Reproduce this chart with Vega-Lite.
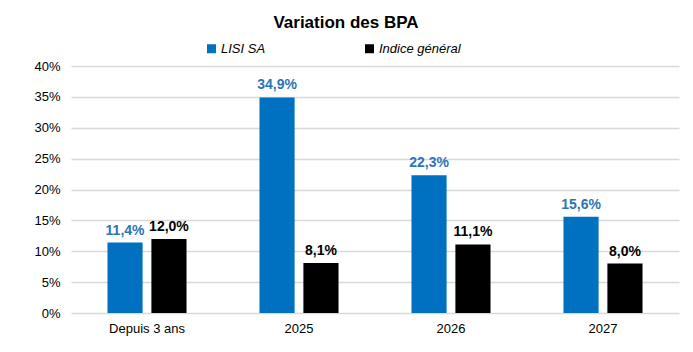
{
  "$schema": "https://vega.github.io/schema/vega-lite/v6.json",
  "width": 608,
  "height": 247,
  "autosize": {"type": "none"},
  "padding": {"left": 71, "top": 66, "right": 14, "bottom": 39},
  "background": "white",
  "title": {
    "text": "Variation des BPA",
    "font": "Liberation Sans",
    "fontSize": 17,
    "fontWeight": "bold",
    "color": "#000000",
    "anchor": "middle",
    "dx": -29,
    "offset": 10
  },
  "data": {
    "values": [
      {"periode": "Depuis 3 ans", "serie": "LISI SA", "valeur": 0.114},
      {"periode": "Depuis 3 ans", "serie": "Indice général", "valeur": 0.120},
      {"periode": "2025", "serie": "LISI SA", "valeur": 0.349},
      {"periode": "2025", "serie": "Indice général", "valeur": 0.081},
      {"periode": "2026", "serie": "LISI SA", "valeur": 0.223},
      {"periode": "2026", "serie": "Indice général", "valeur": 0.111},
      {"periode": "2027", "serie": "LISI SA", "valeur": 0.156},
      {"periode": "2027", "serie": "Indice général", "valeur": 0.080}
    ]
  },
  "encoding": {
    "x": {
      "field": "periode",
      "type": "nominal",
      "sort": ["Depuis 3 ans", "2025", "2026", "2027"],
      "scale": {"paddingInner": 0.48, "paddingOuter": 0.24},
      "axis": {
        "title": null,
        "labelAngle": 0,
        "domain": false,
        "ticks": false,
        "labelPadding": 9,
        "labelFont": "Liberation Sans",
        "labelFontSize": 13,
        "labelColor": "#000000"
      }
    },
    "xOffset": {
      "field": "serie",
      "type": "nominal",
      "sort": ["LISI SA", "Indice général"],
      "scale": {"paddingInner": 0.2, "paddingOuter": 0}
    },
    "y": {
      "field": "valeur",
      "type": "quantitative",
      "scale": {"domain": [0, 0.4], "nice": false},
      "axis": {
        "title": null,
        "format": ".0%",
        "values": [0, 0.05, 0.1, 0.15, 0.2, 0.25, 0.3, 0.35, 0.4],
        "domain": false,
        "ticks": false,
        "labelPadding": 11,
        "labelFont": "Liberation Sans",
        "labelFontSize": 13,
        "labelColor": "#000000",
        "grid": true,
        "gridColor": "#D9D9D9",
        "gridWidth": 1.5
      }
    }
  },
  "layer": [
    {
      "mark": {"type": "bar"},
      "encoding": {
        "color": {
          "field": "serie",
          "type": "nominal",
          "scale": {"domain": ["LISI SA", "Indice général"], "range": ["#0070C0", "#000000"]},
          "legend": {
            "title": null,
            "orient": "none",
            "direction": "horizontal",
            "legendX": 134,
            "legendY": -24,
            "symbolType": "square",
            "symbolSize": 81,
            "symbolStrokeWidth": 0,
            "labelFont": "Liberation Sans",
            "labelFontSize": 13,
            "labelFontStyle": "italic",
            "labelColor": "#000000",
            "labelOffset": 3,
            "columnPadding": 97,
            "padding": 0
          }
        }
      }
    },
    {
      "mark": {
        "type": "text",
        "baseline": "bottom",
        "dy": -5,
        "font": "Liberation Sans",
        "fontSize": 14,
        "fontWeight": "bold"
      },
      "encoding": {
        "text": {"field": "valeur", "type": "quantitative", "format": ".1%"},
        "color": {
          "condition": {"test": "datum.serie === 'LISI SA'", "value": "#2E75B6"},
          "value": "#000000"
        }
      }
    }
  ],
  "config": {
    "locale": {
      "number": {"decimal": ",", "thousands": " ", "grouping": [3], "currency": ["", " €"]}
    },
    "view": {"stroke": null}
  }
}
